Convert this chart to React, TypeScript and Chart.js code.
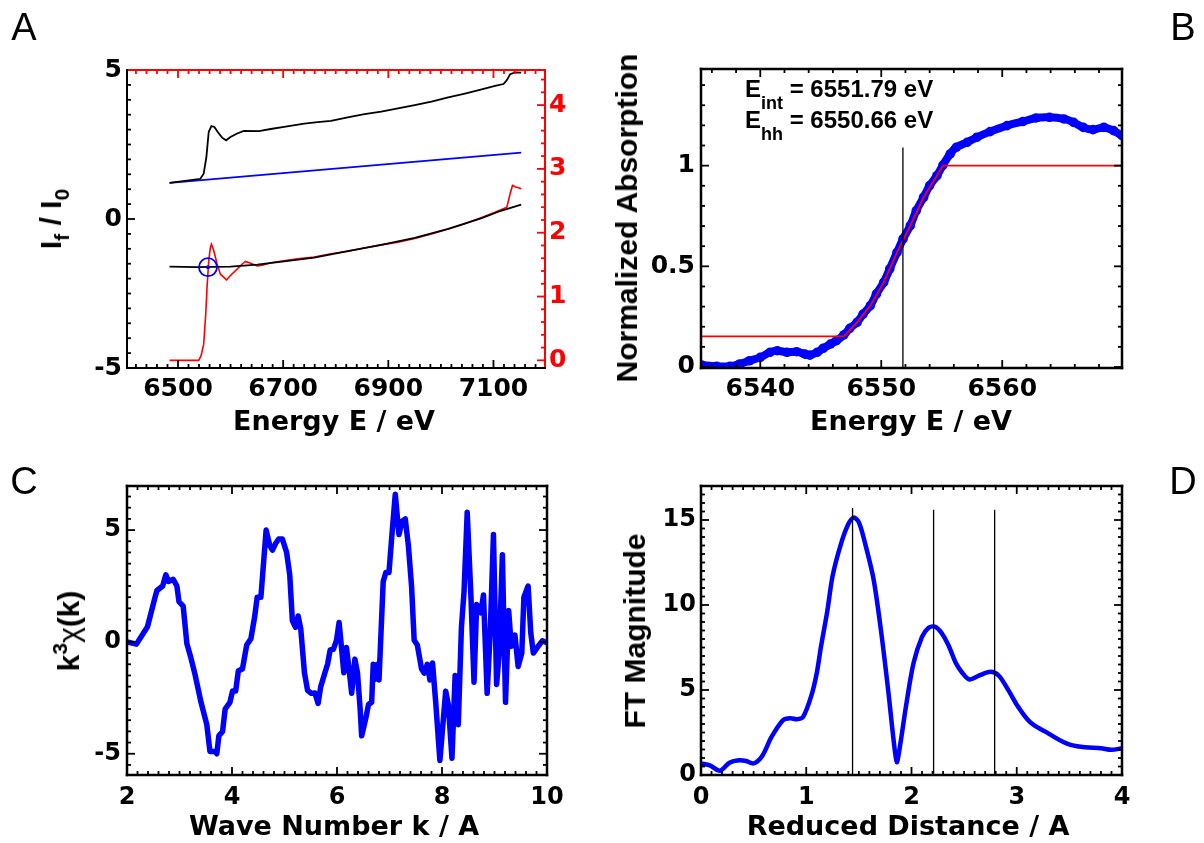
import React, { useEffect, useRef } from "react";
import { Chart, registerables } from "chart.js";

Chart.register(...registerables);

const FONT = '"Liberation Sans", Arial, Helvetica, sans-serif';
const FONT_AX = '"DejaVu Sans", "Liberation Sans", Arial, sans-serif';
const BLUE = "#0000ff";
const RED = "#ff0000";
const BLACK = "#000000";

// ---------------- Panel A (raw spectrum, background, normalized) ----------------
const aRawE = [6484, 6542.5, 6548.8, 6554, 6558.4, 6563.5, 6569.2, 6575.6, 6583.9, 6591.5, 6599.8, 6612.5, 6625.3, 6654, 6676.3, 6701.7, 6740, 6765.4, 6790.9, 6822.8, 6854.6, 6886.5, 6918.3, 6950.2, 6982, 7013.9, 7045.7, 7077.6, 7103, 7119, 7125.4, 7131.7, 7141.3, 7152.7];
const aRawI = [1.21, 1.35, 1.52, 2.08, 2.92, 3.12, 3.09, 2.92, 2.73, 2.64, 2.75, 2.87, 2.96, 2.95, 3.02, 3.09, 3.2, 3.25, 3.29, 3.41, 3.52, 3.6, 3.71, 3.82, 3.94, 4.08, 4.21, 4.35, 4.47, 4.53, 4.66, 4.86, 4.92, 4.91];
const aBgE = [6484, 7152.7];
const aBgI = [1.21, 2.23];
const aNormE = [6483.9, 6539.3, 6543.7, 6548.8, 6552.7, 6555.2, 6558.4, 6561.6, 6563.5, 6568, 6574.3, 6580.7, 6592.2, 6599.8, 6612.5, 6622.1, 6628.5, 6638, 6650.8, 6660.3, 6676.3, 6701.7, 6727.2, 6759.1, 6790.9, 6822.8, 6854.6, 6886.5, 6918.3, 6950.2, 6982, 7013.9, 7045.7, 7077.6, 7103, 7125.4, 7131.7, 7136.2, 7141.3, 7152.7];
const aNormMu = [0, 0, 0.07, 0.25, 0.72, 1.14, 1.56, 1.77, 1.82, 1.72, 1.51, 1.35, 1.26, 1.33, 1.43, 1.51, 1.55, 1.52, 1.48, 1.49, 1.53, 1.56, 1.59, 1.62, 1.67, 1.71, 1.76, 1.81, 1.85, 1.91, 1.98, 2.06, 2.14, 2.24, 2.32, 2.4, 2.61, 2.74, 2.72, 2.69];
const aFitE = [6483.9, 6536.1, 6599.8, 6650.8, 6701.7, 6759.1, 6822.8, 6886.5, 6950.2, 7013.9, 7077.6, 7109.4, 7152.7];
const aFitMu = [1.47, 1.46, 1.47, 1.5, 1.55, 1.61, 1.71, 1.81, 1.92, 2.06, 2.23, 2.33, 2.44];
const aEdgeE = [6557];
const aEdgeMu = [1.46];
const aXTicks = [6500, 6700, 6900, 7100];
const aYTicks = [-5, 0, 5];
const aY2Ticks = [0, 1, 2, 3, 4];

// ---------------- Panel B (edge region) ----------------
const bE = [6535.15, 6536.4, 6537.5, 6538.3, 6539.1, 6540.0, 6540.8, 6541.4, 6542.2, 6543.0, 6543.7, 6544.1, 6544.7, 6545.2, 6545.8, 6546.3, 6546.9, 6547.4, 6548.0, 6548.5, 6549.1, 6549.6, 6550.2, 6550.7, 6551.3, 6551.8, 6552.4, 6552.9, 6553.5, 6554.0, 6554.6, 6555.1, 6555.7, 6556.2, 6557.1, 6557.9, 6559.0, 6560.4, 6561.7, 6562.8, 6563.9, 6565.1, 6565.9, 6566.7, 6567.5, 6568.4, 6569.2, 6569.9];
const bMu = [0.01, 0.003, 0.003, 0.015, 0.031, 0.048, 0.073, 0.081, 0.073, 0.076, 0.064, 0.059, 0.073, 0.093, 0.114, 0.131, 0.159, 0.192, 0.222, 0.263, 0.305, 0.363, 0.42, 0.487, 0.569, 0.636, 0.702, 0.777, 0.843, 0.901, 0.95, 1.003, 1.058, 1.091, 1.116, 1.141, 1.169, 1.199, 1.219, 1.237, 1.24, 1.232, 1.215, 1.19, 1.179, 1.19, 1.174, 1.149];
const bStepE = [6535.1, 6546.9, 6548.0, 6549.1, 6550.2, 6551.3, 6552.4, 6553.5, 6554.6, 6555.1, 6570.0];
const bStepMu = [0.152, 0.152, 0.222, 0.305, 0.42, 0.569, 0.702, 0.843, 0.95, 1.0, 1.0];
const bLineE = [6551.79, 6551.79];
const bLineMu = [-0.005, 1.09];
const bXTicks = [6540, 6550, 6560];
const bYTicks = [0, 0.5, 1];

// ---------------- Panel C (EXAFS k^3 chi) ----------------
const cK = [2.0, 2.18, 2.39, 2.53, 2.57, 2.68, 2.74, 2.79, 2.88, 2.95, 2.99, 3.07, 3.14, 3.21, 3.3, 3.41, 3.52, 3.58, 3.68, 3.71, 3.75, 3.82, 3.87, 3.96, 4.01, 4.07, 4.12, 4.2, 4.28, 4.36, 4.43, 4.48, 4.55, 4.65, 4.72, 4.77, 4.83, 4.89, 4.96, 5.04, 5.1, 5.15, 5.21, 5.26, 5.31, 5.38, 5.44, 5.51, 5.58, 5.64, 5.69, 5.77, 5.82, 5.87, 5.93, 5.99, 6.04, 6.09, 6.13, 6.18, 6.23, 6.28, 6.34, 6.39, 6.44, 6.47, 6.55, 6.6, 6.66, 6.69, 6.73, 6.77, 6.8, 6.88, 6.93, 6.99, 7.04, 7.11, 7.18, 7.24, 7.3, 7.36, 7.42, 7.47, 7.53, 7.61, 7.66, 7.72, 7.77, 7.82, 7.88, 7.96, 8.07, 8.12, 8.19, 8.25, 8.31, 8.37, 8.42, 8.48, 8.55, 8.61, 8.66, 8.74, 8.79, 8.86, 8.92, 8.98, 9.04, 9.09, 9.15, 9.21, 9.27, 9.32, 9.39, 9.45, 9.52, 9.56, 9.64, 9.69, 9.74, 9.83, 9.91, 10.0];
const cChi = [0.0, -0.1, 0.68, 1.96, 2.3, 2.5, 3.0, 2.7, 2.8, 2.5, 1.8, 1.6, -0.07, -0.65, -1.5, -2.7, -3.7, -4.9, -4.9, -5.0, -4.2, -4.0, -3.0, -2.7, -2.2, -2.2, -1.3, -1.2, -0.14, 0.14, 1.1, 2.0, 2.0, 5.0, 4.3, 4.1, 4.4, 4.6, 4.6, 4.0, 3.0, 0.94, 0.65, 1.16, 0.58, -1.38, -2.17, -2.3, -2.28, -2.75, -2.0, -1.38, -1.0, -0.36, -0.33, 0.07, 0.87, -0.36, -1.38, -0.25, -1.23, -2.3, -0.77, -1.38, -2.97, -4.2, -3.4, -2.8, -2.7, -1.0, -1.67, -1.0, -1.7, 2.7, 3.1, 3.1, 4.6, 6.6, 4.8, 5.4, 5.5, 4.3, 2.5, 0.07, -0.14, -1.2, -1.4, -1.0, -1.7, -0.94, -2.7, -5.3, -2.2, -2.8, -5.2, -1.5, -3.7, 0.65, 2.25, 5.8, 2.1, -1.8, 1.67, 1.3, 2.1, -2.3, 0.5, 4.8, -1.9, -0.5, 3.9, -2.7, 1.4, -0.2, 0.3, -1.1, -0.5, 2.0, 2.5, 0.43, -0.5, -0.2, 0.05, -0.04];
const cXTicks = [2, 4, 6, 8, 10];
const cYTicks = [-5, 0, 5];

// ---------------- Panel D (Fourier transform) ----------------
const dR = [0, 0.084, 0.18, 0.27, 0.36, 0.43, 0.5, 0.58, 0.67, 0.78, 0.85, 0.91, 0.97, 1.05, 1.1, 1.14, 1.2, 1.25, 1.33, 1.4, 1.45, 1.5, 1.56, 1.64, 1.71, 1.78, 1.83, 1.86, 1.89, 1.95, 2.02, 2.1, 2.16, 2.22, 2.28, 2.35, 2.42, 2.48, 2.55, 2.64, 2.75, 2.83, 2.92, 3.01, 3.1, 3.17, 3.28, 3.41, 3.52, 3.65, 3.8, 3.9, 4.0];
const dFT = [0.68, 0.57, 0.25, 0.72, 0.87, 0.82, 0.68, 1.1, 2.24, 3.23, 3.34, 3.28, 3.42, 4.7, 6.0, 7.55, 9.64, 11.7, 13.6, 14.76, 15.14, 14.86, 13.6, 11.5, 8.5, 4.9, 2.05, 0.76, 1.67, 4.14, 6.6, 8.12, 8.65, 8.73, 8.4, 7.65, 6.6, 6.03, 5.62, 5.84, 6.07, 5.84, 4.99, 4.04, 3.28, 2.9, 2.52, 2.05, 1.76, 1.63, 1.57, 1.48, 1.57];
const dPeakR = [1.44, 2.21, 2.79];
const dPeakTop = [15.7, 15.6, 15.6];
const dXTicks = [0, 1, 2, 3, 4];
const dYTicks = [0, 5, 10, 15];

// ---------------- helpers ----------------
type Pt = { x: number; y: number };
const zip = (xs: number[], ys: number[]): Pt[] => xs.map((x, i) => ({ x, y: ys[i] }));

function axis(o: { pos: string; min: number; max: number; ticks: number[]; size: number; color?: string; pad: number; font: number }) {
  const horiz = o.pos === "bottom" || o.pos === "top";
  return {
    type: "linear",
    position: o.pos,
    min: o.min,
    max: o.max,
    bounds: "data",
    grid: { display: false, drawTicks: false },
    border: { display: false },
    title: { display: false },
    ticks: {
      color: o.color || BLACK,
      font: { family: FONT_AX, size: o.font, weight: "bold" },
      padding: o.pad,
      autoSkip: false,
      maxRotation: 0,
      minRotation: 0,
      callback: (v: any) => String(v),
    },
    afterBuildTicks: (s: any) => {
      s.ticks = o.ticks.map((v) => ({ value: v }));
    },
    afterFit: (s: any) => {
      if (horiz) s.height = o.size;
      else s.width = o.size;
    },
  };
}

const framePlugin = {
  id: "frameTicks",
  afterDatasetsDraw(chart: any, _args: any, opts: any) {
    const { ctx, chartArea } = chart;
    const { left, right, top, bottom } = chartArea;
    ctx.save();
    ctx.lineCap = "butt";
    for (const s of opts.sides || []) {
      const sc = chart.scales[s.scale];
      ctx.strokeStyle = s.color;
      ctx.lineWidth = 1.8;
      const i0 = Math.ceil(sc.min / s.minor - 1e-6);
      const i1 = Math.floor(sc.max / s.minor + 1e-6);
      for (let i = i0; i <= i1; i++) {
        const v = i * s.minor;
        const major = s.major.some((m: number) => Math.abs(m - v) < s.minor * 1e-3);
        const len = major ? 8 : 4;
        const p = sc.getPixelForValue(v);
        ctx.beginPath();
        if (s.side === "left") { ctx.moveTo(left, p); ctx.lineTo(left + len, p); }
        else if (s.side === "right") { ctx.moveTo(right, p); ctx.lineTo(right - len, p); }
        else if (s.side === "bottom") { ctx.moveTo(p, bottom); ctx.lineTo(p, bottom - len); }
        else { ctx.moveTo(p, top); ctx.lineTo(p, top + len); }
        ctx.stroke();
      }
    }
    const w = opts.width || 2;
    const h = w / 2;
    const edge = (c: string, x1: number, y1: number, x2: number, y2: number) => {
      ctx.strokeStyle = c;
      ctx.lineWidth = w;
      ctx.beginPath();
      ctx.moveTo(x1, y1);
      ctx.lineTo(x2, y2);
      ctx.stroke();
    };
    const col = opts.colors || {};
    edge(col.top || BLACK, left - h, top, right + h, top);
    edge(col.right || BLACK, right, top - h, right, bottom + h);
    edge(col.bottom || BLACK, left - h, bottom, right + h, bottom);
    edge(col.left || BLACK, left, top - h, left, bottom + h);
    ctx.restore();
  },
};

function line(data: Pt[], color: string, width: number, extra: any = {}) {
  return { data, showLine: true, borderColor: color, backgroundColor: color, borderWidth: width, pointRadius: 0, fill: false, ...extra };
}

function baseOptions(padding: any, scales: any, frame: any) {
  return {
    responsive: false,
    maintainAspectRatio: false,
    animation: false,
    events: [],
    layout: { padding },
    plugins: { legend: { display: false }, tooltip: { enabled: false }, frameTicks: frame },
    scales,
  };
}

function buildA() {
  return {
    type: "scatter",
    data: {
      datasets: [
        { data: zip(aEdgeE, aEdgeMu), yAxisID: "y2", showLine: false, pointRadius: 9, pointBorderColor: BLUE, pointBackgroundColor: "rgba(0,0,0,0)", pointBorderWidth: 1.8 },
        { data: zip(aEdgeE, aEdgeMu), yAxisID: "y2", showLine: false, pointRadius: 2, pointBackgroundColor: BLUE, pointBorderWidth: 0 },
        line(zip(aFitE, aFitMu), BLACK, 1.8, { yAxisID: "y2" }),
        line(zip(aNormE, aNormMu), RED, 1.6, { yAxisID: "y2" }),
        line(zip(aRawE, aRawI), BLACK, 1.8, { yAxisID: "y" }),
        line(zip(aBgE, aBgI), BLUE, 1.8, { yAxisID: "y" }),
      ],
    },
    options: baseOptions(
      { left: 0, top: 70, right: 0, bottom: 0 },
      {
        x: axis({ pos: "bottom", min: 6403, max: 7198, ticks: aXTicks, size: 72, pad: 6, font: 25 }),
        y: axis({ pos: "left", min: -5, max: 5, ticks: aYTicks, size: 127, pad: 5, font: 25 }),
        y2: axis({ pos: "right", min: -0.12, max: 4.55, ticks: aY2Ticks, size: 55, pad: 4, color: RED, font: 25 }),
      },
      {
        width: 2,
        colors: { top: RED, right: RED, left: BLACK, bottom: BLACK },
        sides: [
          { scale: "x", side: "bottom", major: aXTicks, minor: 20, color: BLACK },
          { scale: "x", side: "top", major: aXTicks, minor: 20, color: RED },
          { scale: "y", side: "left", major: aYTicks, minor: 0.5, color: BLACK },
          { scale: "y2", side: "right", major: aY2Ticks, minor: 0.2, color: RED },
        ],
      }
    ),
    plugins: [framePlugin],
  };
}

function buildB() {
  return {
    type: "scatter",
    data: {
      datasets: [
        line(zip(bLineE, bLineMu), BLACK, 1.3),
        line(zip(bStepE, bStepMu), RED, 1.8),
        line(zip(bE, bMu), BLUE, 8, { tension: 0.3, pointRadius: 4.8, pointBackgroundColor: BLUE, pointBorderWidth: 0 }),
      ],
    },
    options: baseOptions(
      { left: 0, top: 69, right: 82, bottom: 0 },
      {
        x: axis({ pos: "bottom", min: 6535.1, max: 6569.9, ticks: bXTicks, size: 72, pad: 6, font: 25 }),
        y: axis({ pos: "left", min: -0.005, max: 1.48, ticks: bYTicks, size: 101, pad: 6, font: 25 }),
      },
      {
        width: 2.5,
        sides: [
          { scale: "x", side: "bottom", major: bXTicks, minor: 2, color: BLACK },
          { scale: "x", side: "top", major: bXTicks, minor: 2, color: BLACK },
          { scale: "y", side: "left", major: bYTicks, minor: 0.1, color: BLACK },
          { scale: "y", side: "right", major: bYTicks, minor: 0.1, color: BLACK },
        ],
      }
    ),
    plugins: [framePlugin],
  };
}

function buildC() {
  return {
    type: "scatter",
    data: { datasets: [line(zip(cK, cChi), BLUE, 5.5, { borderJoinStyle: "round", borderCapStyle: "round" })] },
    options: baseOptions(
      { left: 0, top: 46, right: 53, bottom: 0 },
      {
        x: axis({ pos: "bottom", min: 2, max: 10, ticks: cXTicks, size: 68, pad: 8, font: 24 }),
        y: axis({ pos: "left", min: -5.95, max: 6.97, ticks: cYTicks, size: 127, pad: 6, font: 24 }),
      },
      {
        width: 2.5,
        sides: [
          { scale: "x", side: "bottom", major: cXTicks, minor: 0.2, color: BLACK },
          { scale: "x", side: "top", major: cXTicks, minor: 0.2, color: BLACK },
          { scale: "y", side: "left", major: cYTicks, minor: 0.5, color: BLACK },
          { scale: "y", side: "right", major: cYTicks, minor: 0.5, color: BLACK },
        ],
      }
    ),
    plugins: [framePlugin],
  };
}

function buildD() {
  const vlines = dPeakR.map((r, i) => line(zip([r, r], [0, dPeakTop[i]]), BLACK, 1.3));
  return {
    type: "scatter",
    data: {
      datasets: [
        ...vlines,
        line(zip(dR, dFT), BLUE, 4.5, { tension: 0.3, borderJoinStyle: "round", borderCapStyle: "round" }),
      ],
    },
    options: baseOptions(
      { left: 0, top: 46, right: 82, bottom: 0 },
      {
        x: axis({ pos: "bottom", min: 0, max: 4, ticks: dXTicks, size: 68, pad: 8, font: 24 }),
        y: axis({ pos: "left", min: 0, max: 17, ticks: dYTicks, size: 101, pad: 5, font: 24 }),
      },
      {
        width: 2.5,
        sides: [
          { scale: "x", side: "bottom", major: dXTicks, minor: 0.1, color: BLACK },
          { scale: "x", side: "top", major: dXTicks, minor: 0.1, color: BLACK },
          { scale: "y", side: "left", major: dYTicks, minor: 0.5, color: BLACK },
          { scale: "y", side: "right", major: dYTicks, minor: 0.5, color: BLACK },
        ],
      }
    ),
    plugins: [framePlugin],
  };
}

function ChartCanvas(props: { build: () => any; left: number; top: number; width: number; height: number }) {
  const ref = useRef<HTMLCanvasElement>(null);
  useEffect(() => {
    const chart = new Chart(ref.current as HTMLCanvasElement, props.build());
    return () => chart.destroy();
  }, []);
  return (
    <canvas
      ref={ref}
      width={props.width}
      height={props.height}
      style={{ position: "absolute", left: props.left, top: props.top, width: props.width, height: props.height }}
    />
  );
}

function Txt(props: { x: number; y: number; size?: number; weight?: string; rotate?: boolean; family?: string; children: any }) {
  return (
    <div
      style={{
        position: "absolute",
        left: props.x,
        top: props.y,
        transform: `translate(-50%, -50%)${props.rotate ? " rotate(-90deg)" : ""}`,
        fontFamily: props.family ?? FONT,
        fontSize: props.size ?? 28,
        fontWeight: (props.weight ?? "bold") as any,
        whiteSpace: "nowrap",
        lineHeight: 1,
        color: BLACK,
      }}
    >
      {props.children}
    </div>
  );
}

const sub = (t: string, size = 20, dy = 8) => (
  <span style={{ fontSize: size, position: "relative", top: dy }}>{t}</span>
);

export default function App() {
  useEffect(() => {
    document.body.style.margin = "0";
  }, []);
  return (
    <div style={{ position: "absolute", left: 0, top: 0, width: 1204, height: 843, background: "#fff", overflow: "hidden" }}>
      <ChartCanvas build={buildA} left={0} top={0} width={600} height={440} />
      <ChartCanvas build={buildB} left={600} top={0} width={604} height={440} />
      <ChartCanvas build={buildC} left={0} top={440} width={600} height={403} />
      <ChartCanvas build={buildD} left={600} top={440} width={604} height={403} />

      <Txt x={24} y={27} size={38} weight="normal">A</Txt>
      <Txt x={1183} y={27} size={38} weight="normal">B</Txt>
      <Txt x={24} y={481} size={38} weight="normal">C</Txt>
      <Txt x={1183} y={481} size={38} weight="normal">D</Txt>

      <Txt x={51} y={219} size={30} rotate>
        I{sub("f", 21, 8)} / I{sub("0", 21, 8)}
      </Txt>
      <Txt x={334} y={420} size={27} family={FONT_AX}>Energy E / eV</Txt>

      <Txt x={627} y={218} size={30} rotate>Normalized Absorption</Txt>
      <Txt x={911} y={420} size={27} family={FONT_AX}>Energy E / eV</Txt>

      <Txt x={69} y={631} size={30} rotate>
        k<span style={{ fontSize: 21, position: "relative", top: -12 }}>3</span>
        <span style={{ fontWeight: "normal" }}>χ</span>(k)
      </Txt>
      <Txt x={334} y={825} size={27} family={FONT_AX}>Wave Number k / A</Txt>

      <Txt x={635} y={631} size={30} rotate>FT Magnitude</Txt>
      <Txt x={908} y={825} size={27} family={FONT_AX}>Reduced Distance / A</Txt>

      <div style={{ position: "absolute", left: 745, top: 77, fontFamily: FONT, fontSize: 24, fontWeight: "bold", lineHeight: "24px", whiteSpace: "nowrap" }}>
        E{sub("int", 18, 12)} = 6551.79 eV
      </div>
      <div style={{ position: "absolute", left: 745, top: 108, fontFamily: FONT, fontSize: 24, fontWeight: "bold", lineHeight: "24px", whiteSpace: "nowrap" }}>
        E{sub("hh", 18, 12)} = 6550.66 eV
      </div>
    </div>
  );
}
